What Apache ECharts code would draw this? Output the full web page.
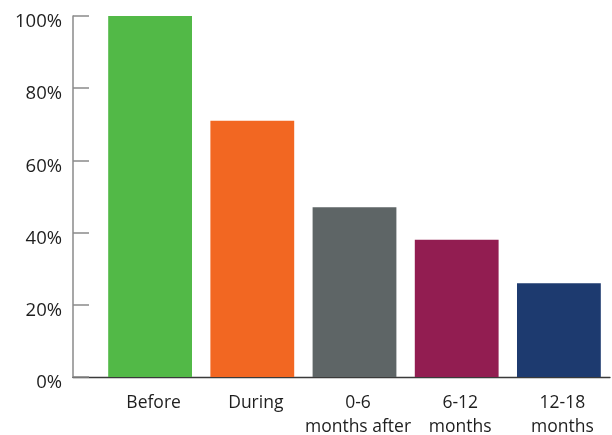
<!DOCTYPE html>
<html><head><meta charset="utf-8">
<script src="https://cdn.jsdelivr.net/npm/echarts@6/dist/echarts.min.js"></script>
<style>html,body{margin:0;padding:0;background:#fff}#c{width:612px;height:435px}</style>
</head><body><div id="c"></div>
<script>
const categories = ['Before', 'During', '0-6\nmonths after', '6-12\nmonths', '12-18\nmonths'];
const values = [100, 71, 47, 38, 26];
const colors = ['#52b947', '#f26722', '#5e6566', '#921d51', '#1d3a6f'];
const yTicks = [0, 20, 40, 60, 80, 100];

const chart = echarts.init(document.getElementById('c'), null, {renderer: 'canvas'});
const font = '"Open Sans", Lato, sans-serif';
chart.setOption({
  animation: false,
  grid: [
    {left: 99, right: 2, top: 16, bottom: 58, containLabel: false, outerBoundsMode: 'none'},
    {left: 73, right: 2, top: 16, bottom: 58, containLabel: false, outerBoundsMode: 'none'}
  ],
  xAxis: [
    {type: 'category', gridIndex: 0, data: categories,
     axisLine: {show: false}, axisTick: {show: false},
     axisLabel: {interval: 0, color: '#1e1e1e', fontSize: 17.5, fontFamily: font, margin: 14, lineHeight: 24,
                 padding: [0, 0, 0, 7]}},
    {type: 'value', gridIndex: 1, min: 0, max: 1,
     axisLine: {show: true, onZero: false, lineStyle: {color: '#3a3a3a', width: 1.3}},
     axisTick: {show: false}, axisLabel: {show: false}, splitLine: {show: false}}
  ],
  yAxis: [
    {type: 'value', gridIndex: 0, min: yTicks[0], max: yTicks[yTicks.length - 1], interval: 20, offset: 26,
     axisLine: {show: true, lineStyle: {color: '#8a8a8a', width: 1.5}},
     axisTick: {show: true, inside: true, length: 16, lineStyle: {color: '#8a8a8a', width: 1.5}},
     axisLabel: {formatter: v => '{a|' + v + '%}', margin: 11,
                 rich: {a: {color: '#1e1e1e', fontSize: 18.5, fontFamily: font, padding: [12, 0, 0, 0]}}},
     splitLine: {show: false}},
    {type: 'value', gridIndex: 1, min: 0, max: 1, show: false}
  ],
  series: [{
    type: 'bar', xAxisIndex: 0, yAxisIndex: 0,
    barCategoryGap: '18%',
    data: values.map((v, i) => ({value: v, itemStyle: {color: colors[i]}}))
  }]
});
</script></body></html>
